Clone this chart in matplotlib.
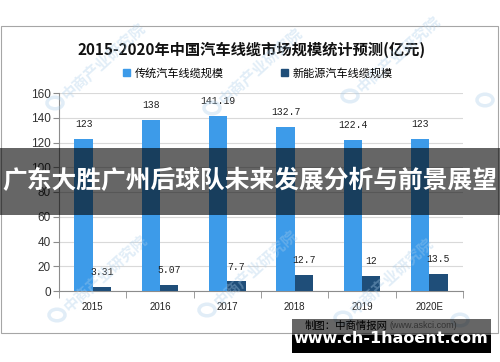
import matplotlib.pyplot as plt
from matplotlib.patches import Rectangle, Patch, Circle
import numpy as np

plt.rcParams['font.family'] = ['Noto Sans CJK SC', 'DejaVu Sans']

years = ['2015', '2016', '2017', '2018', '2019', '2020E']
traditional = [123, 138, 141.19, 132.7, 122.4, 123]
new_energy = [3.31, 5.07, 7.7, 12.7, 12, 13.5]
trad_labels = ['123', '138', '141.19', '132.7', '122.4', '123']
new_labels = ['3.31', '5.07', '7.7', '12.7', '12', '13.5']

c_light = '#3d9be9'
c_dark = '#1f4e79'

W, H = 500, 362
fig = plt.figure(figsize=(5, 3.62), dpi=100)

def fx(px):
    return px / W

def fy(py):
    return 1 - py / H

# outer chart frame
fig.patches.append(Rectangle((fx(1), fy(333)), fx(497), (333 - 26) / H,
                             transform=fig.transFigure, fill=False,
                             edgecolor='#a6a6a6', linewidth=0.8))

ax = fig.add_axes([fx(59), fy(291), fx(463 - 59), (291 - 93) / H])
x = np.arange(len(years))
bw = 0.27
ax.bar(x - bw / 2, traditional, bw, color=c_light, zorder=3)
ax.bar(x + bw / 2, new_energy, bw, color=c_dark, zorder=3)

for xi, v, s in zip(x, traditional, trad_labels):
    ax.text(xi - bw / 2, v + 8, s, ha='center', va='bottom',
            fontsize=7, family='Liberation Mono', color='#222222')
for xi, v, s in zip(x, new_energy, new_labels):
    ax.text(xi + bw / 2, v + 8, s, ha='center', va='bottom',
            fontsize=7, family='Liberation Mono', color='#222222')

ax.set_xlim(-0.5, len(years) - 0.5)
ax.set_ylim(0, 160)
ax.set_yticks(range(0, 161, 20))
ax.yaxis.grid(True, color='#d9d9d9', linewidth=0.8, zorder=0)
ax.set_axisbelow(True)
for s in ['top', 'right']:
    ax.spines[s].set_visible(False)
ax.spines['left'].set_color('#8c8c8c')
ax.spines['bottom'].set_color('#8c8c8c')
ax.tick_params(axis='y', labelsize=8.5, colors='#8c8c8c', labelcolor='#333333',
               length=4, pad=2)
for t in ax.get_yticklabels():
    t.set_family('Liberation Sans')
ax.set_xticks(x)
ax.set_xticklabels(years, fontsize=7, family='Liberation Sans', color='#222222')
ax.tick_params(axis='x', which='major', length=0, pad=8)
ax.set_xticks(np.arange(-0.5, len(years)), minor=True)
ax.tick_params(axis='x', which='minor', length=5, color='#8c8c8c')

fig.text(fx(252), fy(50), '2015-2020年中国汽车线缆市场规模统计预测(亿元)',
         ha='center', va='center', fontsize=11, fontweight='bold', color='#111111')

handles = [Patch(color=c_light), Patch(color=c_dark)]
fig.legend(handles, ['传统汽车线缆规模', '新能源汽车线缆规模'], ncol=2,
           loc='center', bbox_to_anchor=(fx(258), fy(73)), frameon=False,
           fontsize=8, handlelength=0.6, handleheight=0.6, handletextpad=0.4,
           columnspacing=5.2)

# faint watermarks (logo ring + diagonal text; right-edge ones show only the ring)
wm_pos = [(55, 103), (212, 108), (350, 96), (485, 100),
          (57, 315), (207, 310), (343, 318), (460, 320)]
for px, py in wm_pos:
    fig.patches.append(Circle((fx(px), fy(py)), 0.016, transform=fig.transFigure,
                              fill=False, edgecolor='#a9cdea', linewidth=2.5,
                              alpha=0.35, zorder=4))
    if px < 400:
        fig.text(fx(px + 9), fy(py - 6), '中商产业研究院', rotation=42,
                 rotation_mode='anchor', ha='left', va='center', fontsize=11,
                 fontweight='bold', color='#a9cdea', alpha=0.35, zorder=4)

# grey banner over the chart
fig.patches.append(Rectangle((0, fy(215)), 1, (215 - 148) / H,
                             transform=fig.transFigure, facecolor='black',
                             alpha=0.6, zorder=5))
fig.text(0.5, fy(181), '广东大胜广州后球队未来发展分析与前景展望',
         ha='center', va='center', fontsize=17.8, fontweight='bold',
         color='white', zorder=6)

# source box, bottom right
fig.patches.append(Rectangle((fx(292), fy(335)), fx(491 - 292), (335 - 319) / H,
                             transform=fig.transFigure, facecolor='black',
                             alpha=0.6, zorder=5))
fig.text(fx(305), fy(326), '制图：中商情报网', ha='left',
         va='center', fontsize=7.5, color='black', zorder=6)
fig.text(fx(389), fy(326), '(www.askci.com)', ha='left',
         va='center', fontsize=6.5, family='Liberation Sans', color='#333333', zorder=6)
fig.patches.append(Rectangle((fx(292), fy(353)), fx(491 - 292), (353 - 335) / H,
                             transform=fig.transFigure, facecolor='black',
                             zorder=5))
fig.text(fx(391), fy(343), 'www.ch-1haoent.com', ha='center', va='baseline',
         fontsize=11.5, fontweight='bold', family='DejaVu Sans',
         color='white', zorder=7)

fig.savefig('out.png', dpi=100, facecolor='white')
